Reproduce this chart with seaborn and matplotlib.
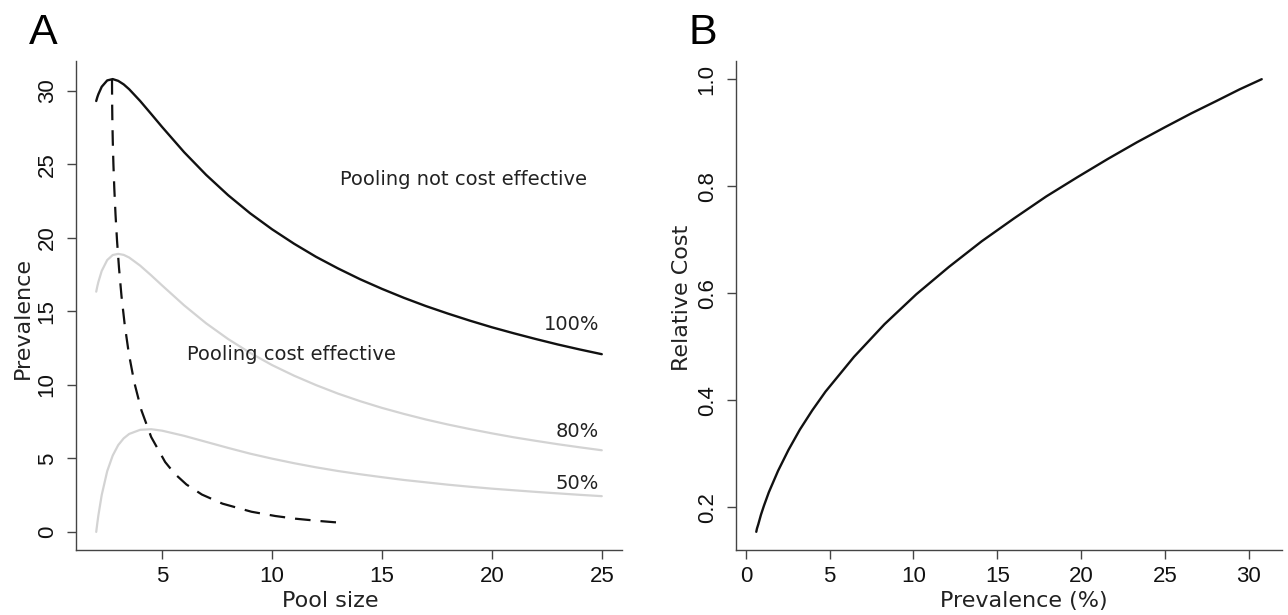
import matplotlib
matplotlib.use("Agg")
import matplotlib.pyplot as plt
import seaborn as sns
import pandas as pd

# Panel A: max prevalence (%) at which pooling pays off, by pool size
pool_size = [2, 2.05, 2.1, 2.25, 2.5, 2.75, 3, 3.25, 3.5, 4, 4.5, 5, 6, 7, 8, 9, 10,
             11, 12, 13, 14, 15, 16, 17, 18, 19, 20, 21, 22, 23, 24, 25]
sens_100 = [29.29, 29.55, 29.76, 30.26, 30.69, 30.78, 30.66, 30.42, 30.09, 29.29, 28.41,
            27.52, 25.81, 24.27, 22.89, 21.66, 20.57, 19.59, 18.70, 17.91, 17.18, 16.52,
            15.91, 15.35, 14.84, 14.36, 13.91, 13.50, 13.11, 12.74, 12.40, 12.08]
sens_80 = [16.33, 16.69, 17.00, 17.74, 18.48, 18.82, 18.90, 18.83, 18.65, 18.10, 17.44,
           16.75, 15.40, 14.18, 13.11, 12.17, 11.34, 10.62, 9.98, 9.40, 8.89, 8.43,
           8.02, 7.64, 7.30, 6.99, 6.70, 6.43, 6.19, 5.96, 5.75, 5.55]
sens_50 = [0.00, 0.60, 1.14, 2.51, 4.13, 5.19, 5.90, 6.36, 6.66, 6.94, 6.98,
           6.88, 6.53, 6.12, 5.71, 5.32, 4.98, 4.67, 4.39, 4.14, 3.92, 3.72,
           3.53, 3.37, 3.21, 3.07, 2.94, 2.83, 2.72, 2.62, 2.52, 2.43]

# optimal pool size for each prevalence (dashed line) and relative cost (panel B)
opt_pool = [2.718, 2.722, 2.733, 2.753, 2.782, 2.823, 2.877, 2.947, 3.037, 3.151, 3.297,
            3.485, 3.730, 4.055, 4.500, 5.136, 5.566, 6.107, 6.807, 7.745, 9.065, 10.15,
            11.05, 12.16, 12.81, 13.24]
prevalence = [30.78, 29.46, 28.06, 26.57, 24.99, 23.33, 21.60, 19.79, 17.93, 16.01, 14.07,
              12.11, 10.17, 8.27, 6.45, 4.75, 3.96, 3.22, 2.54, 1.92, 1.37, 1.08,
              0.90, 0.74, 0.66, 0.62]
rel_cost = [1.000, 0.981, 0.959, 0.936, 0.910, 0.882, 0.851, 0.817, 0.781, 0.740, 0.697,
            0.649, 0.598, 0.542, 0.481, 0.416, 0.381, 0.345, 0.307, 0.268, 0.228, 0.203,
            0.186, 0.168, 0.160, 0.154]

sens_labels = ["100%", "80%", "50%"]

sns.set_theme(style="ticks")
# tick labels and panel letters in an Arial-like face, other text in DejaVu
plt.rcParams["font.family"] = ["Liberation Sans", "DejaVu Sans"]
dv = "DejaVu Sans"

W, H = 1288, 615
fig = plt.figure(figsize=(W / 100, H / 100), dpi=100)
axA = fig.add_axes([76 / W, 65 / H, 546 / W, 489 / H])
axB = fig.add_axes([736 / W, 65 / H, 546 / W, 489 / H])

black = "#111111"
grey = "#d3d3d3"

df_a = pd.DataFrame({"pool": pool_size, "p100": sens_100, "p80": sens_80, "p50": sens_50})
sns.lineplot(data=df_a, x="pool", y="p80", ax=axA, color=grey, lw=1.6, estimator=None)
sns.lineplot(data=df_a, x="pool", y="p50", ax=axA, color=grey, lw=1.6, estimator=None)
sns.lineplot(data=df_a, x="pool", y="p100", ax=axA, color=black, lw=1.7, estimator=None)

df_opt = pd.DataFrame({"pool": opt_pool, "prev": prevalence, "cost": rel_cost})
sns.lineplot(data=df_opt, x="pool", y="prev", ax=axA, color=black, lw=1.6,
             estimator=None, sort=False, dashes=False, linestyle=(0, (7, 4.5)))

sns.lineplot(data=df_opt, x="prev", y="cost", ax=axB, color=black, lw=1.7,
             estimator=None, sort=False)

axA.set_xlim(1.08, 25.92)
axA.set_ylim(-1.23, 32.01)
axA.set_xticks([5, 10, 15, 20, 25])
axA.set_yticks([0, 5, 10, 15, 20, 25, 30])
axB.set_xlim(-0.59, 31.99)
axB.set_ylim(0.120, 1.034)
axB.set_xticks([0, 5, 10, 15, 20, 25, 30])
axB.set_yticks([0.2, 0.4, 0.6, 0.8, 1.0])
axB.set_yticklabels(["0.2", "0.4", "0.6", "0.8", "1.0"])

for ax in (axA, axB):
    sns.despine(ax=ax)
    for s in ("left", "bottom"):
        ax.spines[s].set_color("#444444")
        ax.spines[s].set_linewidth(1.0)
    ax.tick_params(axis="both", length=6.5, width=1.0, color="#444444",
                   labelsize=16, labelcolor="#111111")
    ax.tick_params(axis="x", pad=5)
    ax.tick_params(axis="y", pad=6.7, labelrotation=90)
    plt.setp(ax.get_yticklabels(), va="center")

lab_kw = dict(fontsize=16, color="#222222", family=dv)
axA.set_xlabel("Pool size", **lab_kw)
axA.set_ylabel("Prevalence", **lab_kw)
axB.set_xlabel("Prevalence (%)", **lab_kw)
axB.set_ylabel("Relative Cost", **lab_kw)
axA.xaxis.set_label_coords(0.465, -0.0838)
axA.yaxis.set_label_coords(-0.0788, 0.474)
axB.xaxis.set_label_coords(0.527, -0.0838)
axB.yaxis.set_label_coords(-0.081, 0.515)

txt = dict(fontsize=14, color="#222222", va="baseline", family=dv)
axA.text(18.69, 23.6, "Pooling not cost effective", ha="center", **txt)
axA.text(10.88, 11.66, "Pooling cost effective", ha="center", **txt)
for lab, yy in zip(sens_labels, [13.7, 6.48, 2.93]):
    axA.text(24.88, yy, lab, ha="right", **txt)

fig.text(29 / W, 1 - 44 / H, "A", fontsize=31, color="black", va="baseline")
fig.text(689 / W, 1 - 44 / H, "B", fontsize=31, color="black", va="baseline")

fig.savefig("out.png", dpi=100, facecolor="white")
